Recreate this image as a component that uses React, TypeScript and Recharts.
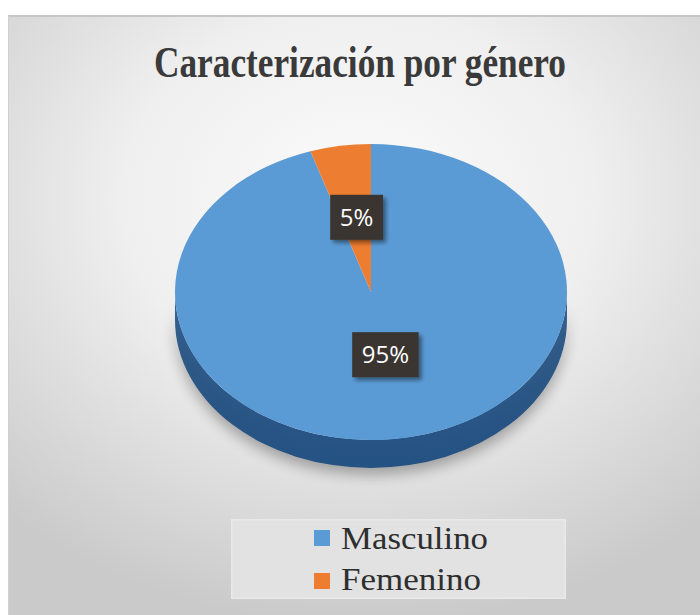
import { PieChart, Pie, Cell, Legend } from 'recharts'

const categories = ['Masculino', 'Femenino']
const shares = [95, 5]
const colors = ['#5b9bd5', '#ed7d31']
const sideColors = ['#245283', '#a9541c']
const title = 'Caracterización por género'

const data = categories.map((name, i) => ({ name, value: shares[i] }))

const TILT = 0.755
const DEPTH = 28

function pt(cx: number, cy: number, rx: number, ry: number, a: number, dy = 0) {
  const r = (a * Math.PI) / 180
  return `${cx + rx * Math.cos(r)},${cy - ry * Math.sin(r) + dy}`
}

// draws a slice of a tilted pie: elliptical top face plus the front wall
function Slice3D(props: any) {
  const { cx, cy, outerRadius, startAngle, endAngle, fill, index } = props
  const rx = outerRadius
  const ry = outerRadius * TILT
  const delta = endAngle - startAngle
  const large = Math.abs(delta) > 180 ? 1 : 0
  const sweep = delta < 0 ? 1 : 0
  const top = `M${cx},${cy} L${pt(cx, cy, rx, ry, startAngle)} A${rx},${ry} 0 ${large} ${sweep} ${pt(cx, cy, rx, ry, endAngle)} Z`

  const lo = Math.min(startAngle, endAngle)
  const hi = Math.max(startAngle, endAngle)
  const walls: string[] = []
  for (let k = -2; k <= 1; k++) {
    const s = Math.max(lo, -180 + 360 * k)
    const e = Math.min(hi, 360 * k)
    if (e > s) {
      walls.push(
        `M${pt(cx, cy, rx, ry, e)} A${rx},${ry} 0 0 1 ${pt(cx, cy, rx, ry, s)} ` +
          `L${pt(cx, cy, rx, ry, s, DEPTH)} A${rx},${ry} 0 0 0 ${pt(cx, cy, rx, ry, e, DEPTH)} Z`
      )
    }
  }
  const i = categories.indexOf(props.name ?? props.payload?.name)
  const side = sideColors[i >= 0 ? i : index ?? 0]
  const gid = `wall-${i}`
  return (
    <g>
      <defs>
        <filter id={`sh-${gid}`} x="-20%" y="-50%" width="140%" height="200%">
          <feGaussianBlur stdDeviation="7" />
        </filter>
        <linearGradient id={gid} x1="0" y1="0" x2="0" y2="1">
          <stop offset="0" stopColor={side} stopOpacity={0.9} />
          <stop offset="1" stopColor={side} />
        </linearGradient>
      </defs>
      {walls.map((d, j) => (
        <path key={`s${j}`} d={d} fill="#000" opacity={0.3} transform="translate(0,7)" filter={`url(#sh-${gid})`} />
      ))}
      {walls.map((d, j) => (
        <path key={`w${j}`} d={d} fill={`url(#${gid})`} />
      ))}
      <path d={top} fill={fill} />
    </g>
  )
}

function renderLabel(props: any) {
  const { cx, cy, outerRadius, midAngle, percent } = props
  const rx = outerRadius
  const ry = outerRadius * TILT
  const r = (midAngle * Math.PI) / 180
  const x = cx + rx * 0.47 * Math.cos(r)
  const y = cy - ry * 0.47 * Math.sin(r) - 6
  const text = `${Math.round(percent * 100)}%`
  const w = (text.length - 1) * 13.7 + 20.1 + 19
  const h = 45
  return (
    <g>
      <defs>
        <filter id="lblShadow" x="-30%" y="-30%" width="160%" height="160%">
          <feDropShadow dx="3" dy="3" stdDeviation="2" floodColor="#000" floodOpacity="0.45" />
        </filter>
      </defs>
      <rect x={x - w / 2} y={y - h / 2} width={w} height={h} fill="#3a3632" filter="url(#lblShadow)" />
      <text x={x} y={y + 8.5} textAnchor="middle" fill="#ffffff" fontSize={24} fontFamily="'Open Sans', sans-serif">
        {text}
      </text>
    </g>
  )
}

function LegendBox(props: any) {
  const items = [...(props.payload ?? [])].sort(
    (a: any, b: any) => categories.indexOf(a.value) - categories.indexOf(b.value)
  )
  return (
    <svg width={335} height={80} style={{ display: 'block' }}>
      <rect x={0.5} y={0.5} width={334} height={79} fill="#e2e2e2" stroke="#e9e9e9" strokeWidth={2} />
      {items.map((it: any, i: number) => {
        const idx = categories.indexOf(it.value)
        return (
          <g key={it.value}>
            <rect x={83} y={11 + i * 43} width={16} height={16} fill={colors[idx]} />
            <text
              x={110}
              y={30 + i * 41}
              fontSize={31}
              fill="#2e2e2e"
              fontFamily="'Liberation Serif', 'Times New Roman', serif"
              textLength={idx === 0 ? 147 : 140}
              lengthAdjust="spacingAndGlyphs"
            >
              {it.value}
            </text>
          </g>
        )
      })}
    </svg>
  )
}

export default function App() {
  return (
    <div style={{ position: 'absolute', left: 0, top: 0, width: 700, height: 615, background: '#fff', overflow: 'hidden' }}>
      <div
        style={{
          position: 'absolute',
          left: 8,
          top: 15,
          width: 700,
          height: 610,
          boxSizing: 'border-box',
          borderTop: '2px solid #c6c6c6',
          borderLeft: '1px solid #d0d0d0',
          background: 'radial-gradient(ellipse 75% 70% at 50% 30%, #fbfbfb 0%, #efefef 45%, #d7d7d7 80%, #cacaca 100%)',
        }}
      >
        <svg width={692} height={80} style={{ position: 'absolute', left: 0, top: 0 }}>
          <text
            x={145}
            y={60}
            fontSize={44}
            fontWeight="bold"
            fill="#3a3a3a"
            fontFamily="'Liberation Serif', 'Times New Roman', serif"
            textLength={412}
            lengthAdjust="spacingAndGlyphs"
          >
            {title}
          </text>
        </svg>
        <PieChart width={692} height={598} style={{ position: 'absolute', left: 0, top: 0 }}>
          <Pie
            data={data}
            dataKey="value"
            nameKey="name"
            cx={357}
            cy={270}
            outerRadius={196}
            startAngle={90}
            endAngle={-270}
            stroke="none"
            shape={Slice3D}
            activeShape={Slice3D}
            label={renderLabel}
            labelLine={false}
            isAnimationActive={false}
          >
            {data.map((d, i) => (
              <Cell key={d.name} fill={colors[i]} />
            ))}
          </Pie>
          <Legend
            content={LegendBox}
            wrapperStyle={{ position: 'absolute', left: 222, top: 502, width: 335, height: 80 }}
          />
        </PieChart>
      </div>
    </div>
  )
}
